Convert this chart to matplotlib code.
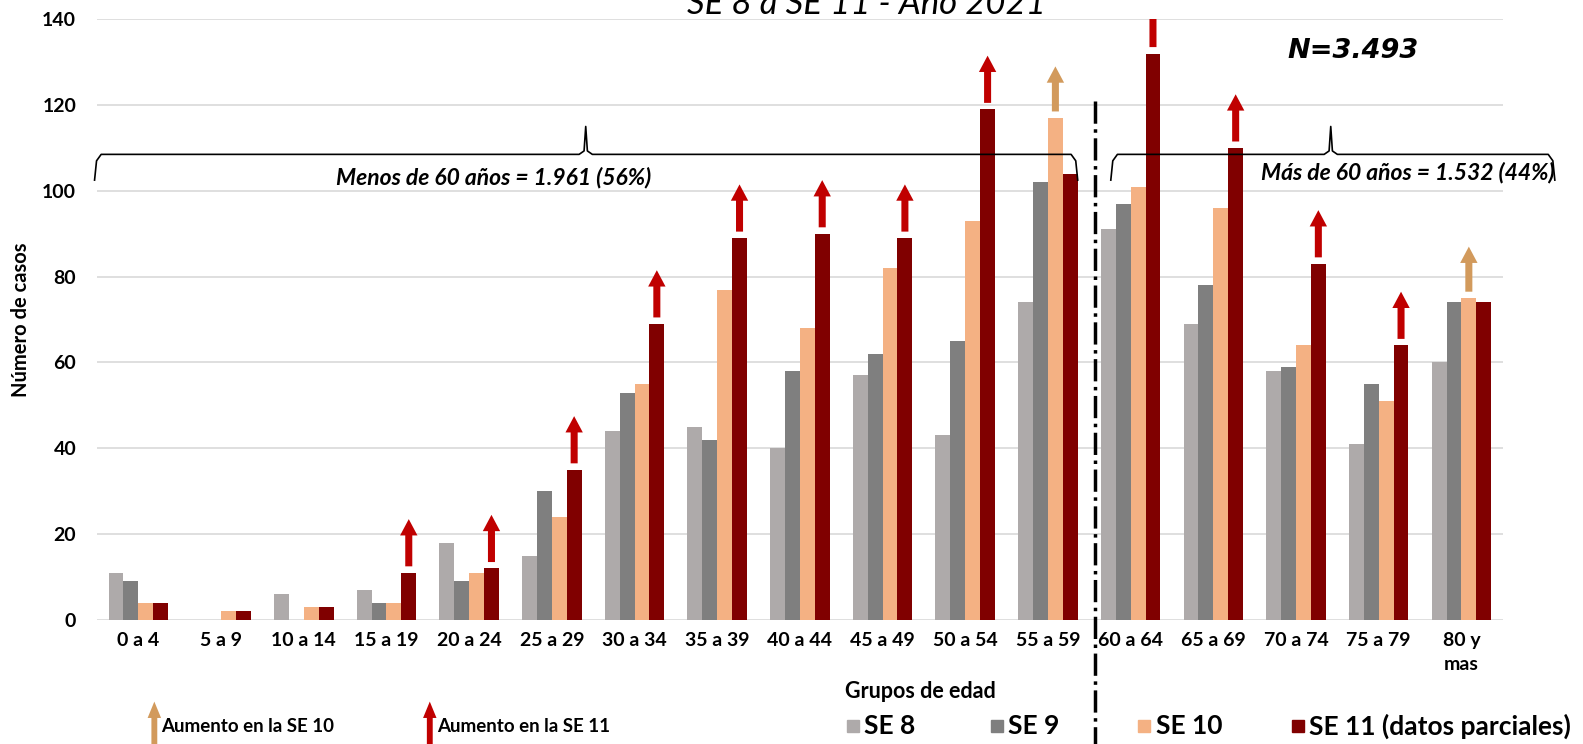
import numpy as np
import matplotlib
matplotlib.use('Agg')
import matplotlib.pyplot as plt
from matplotlib.patches import Rectangle, FancyArrow

# datos
grupos = ['0 a 4', '5 a 9', '10 a 14', '15 a 19', '20 a 24', '25 a 29', '30 a 34',
          '35 a 39', '40 a 44', '45 a 49', '50 a 54', '55 a 59', '60 a 64',
          '65 a 69', '70 a 74', '75 a 79', '80 y\nmas']
se8 = [11, 0, 6, 7, 18, 15, 44, 45, 40, 57, 43, 74, 91, 69, 58, 41, 60]
se9 = [9, 0, 0, 4, 9, 30, 53, 42, 58, 62, 65, 102, 97, 78, 59, 55, 74]
se10 = [4, 2, 3, 4, 11, 24, 55, 77, 68, 82, 93, 117, 101, 96, 64, 51, 75]
se11 = [4, 2, 3, 11, 12, 35, 69, 89, 90, 89, 119, 104, 132, 110, 83, 64, 74]
series = ['SE 8', 'SE 9', 'SE 10', 'SE 11 (datos parciales)']
colores = ['#AEAAAA', '#7F7F7F', '#F4B183', '#800000']

# grupos con aumento
sube_se11 = [3, 4, 5, 6, 7, 8, 9, 10, 12, 13, 14, 15]
sube_se10 = [11, 16]

narrow = ['Lato', 'DejaVu Sans']
rojo = '#C00000'
ocre = '#D29A5C'

fig = plt.figure(figsize=(15.83, 7.44), dpi=100)
ax = fig.add_axes([0.0613, 0.1667, 0.888, 0.8075])

x = np.arange(len(grupos))
w = 0.18
offs = [-1.5 * w, -0.5 * w, 0.5 * w, 1.5 * w]
for vals, off, c in zip([se8, se9, se10, se11], offs, colores):
    ax.bar(x + off, vals, width=w, color=c, zorder=3)

# flechas de aumento
for i in sube_se11:
    ax.add_patch(FancyArrow(i + offs[3], se11[i] + 1.5, 0, 11, width=0.085,
                            head_width=0.21, head_length=3.8,
                            length_includes_head=True, color=rojo, lw=0, zorder=4))
for i in sube_se10:
    ax.add_patch(FancyArrow(i + offs[2], se10[i] + 1.5, 0, 10.5, width=0.085,
                            head_width=0.21, head_length=3.8,
                            length_includes_head=True, color=ocre, lw=0, zorder=4))

ax.set_xlim(-0.5, 16.5)
ax.set_ylim(0, 140)
ax.set_yticks(range(0, 141, 20))
ax.set_xticks(x)
ax.set_xticklabels(grupos, family=narrow, fontweight='bold', fontsize=14, linespacing=1.45)
for t in ax.get_yticklabels():
    t.set_family(narrow)
    t.set_fontweight('bold')
    t.set_fontsize(14)
ax.tick_params(length=0, pad=15)
ax.tick_params(axis='x', pad=9)
ax.grid(axis='y', color='#D9D9D9', lw=1.2, zorder=0)
for s in ax.spines.values():
    s.set_visible(False)

ax.set_ylabel('Número de casos', family=narrow, fontweight='bold', fontsize=14.5)
ax.yaxis.set_label_coords(-0.047, 0.5)

# linea divisoria 60 anos
ax.plot([11.57, 11.57], [121, -29], ls='-.', color='black', lw=2.5, clip_on=False, zorder=5)


def llave(x0, x1, xm, y, alto, cola):
    # llave horizontal con pico hacia arriba
    r = 0.08
    xs = [x0, x0 + r * 0.3, x0 + r, xm - r, xm - 0.02, xm, xm + 0.02, xm + r,
          x1 - r, x1 - r * 0.3, x1]
    ys = [y - cola, y - 1.5, y, y, y + 0.8, y + alto, y + 0.8, y, y, y - 1.5, y - cola]
    ax.plot(xs, ys, color='black', lw=1.2, clip_on=False, zorder=5)


llave(-0.53, 11.36, 5.41, 108.5, 6.5, 6)
llave(11.76, 17.13, 14.42, 108.5, 6.5, 6)

ax.text(4.3, 103, 'Menos de 60 años = 1.961 (56%)', family=narrow, style='italic',
        fontweight='bold', fontsize=16.5, ha='center', va='center')
ax.text(15.35, 104.3, 'Más de 60 años = 1.532 (44%)', family=narrow, style='italic',
        fontweight='bold', fontsize=16.5, ha='center', va='center')
ax.text(14.69, 132.7, 'N=3.493', style='italic', fontweight='bold', fontsize=19.5,
        ha='center', va='center')

fig.text(0.547, 0.995, 'SE 8 a SE 11 - Año 2021', family=narrow, style='italic',
         fontsize=25, ha='center', va='center')
fig.text(0.5817, 0.071, 'Grupos de edad', family=narrow, fontweight='bold',
         fontsize=15.5, ha='center', va='center')

# leyenda manual
ly = 0.024
for xs, lab, c in zip([0.535, 0.626, 0.719, 0.816], series, colores):
    fig.patches.append(Rectangle((xs, ly - 0.0085), 0.0077, 0.017, color=c,
                                 transform=fig.transFigure, figure=fig))
    fig.text(xs + 0.011, ly, lab, family=narrow, fontweight='bold', fontsize=19,
             ha='left', va='center')

for xa, c, lab in [(0.0975, ocre, 'Aumento en la SE 10'), (0.2715, rojo, 'Aumento en la SE 11')]:
    fig.patches.append(FancyArrow(xa, -0.01, 0, 0.067, width=0.0037, head_width=0.0085,
                                  head_length=0.022, length_includes_head=True, color=c,
                                  lw=0, transform=fig.transFigure, figure=fig))
    fig.text(xa + 0.0045, ly, lab, family=narrow, fontweight='bold', fontsize=13.5,
             ha='left', va='center')

fig.savefig('out.png', dpi=100)
